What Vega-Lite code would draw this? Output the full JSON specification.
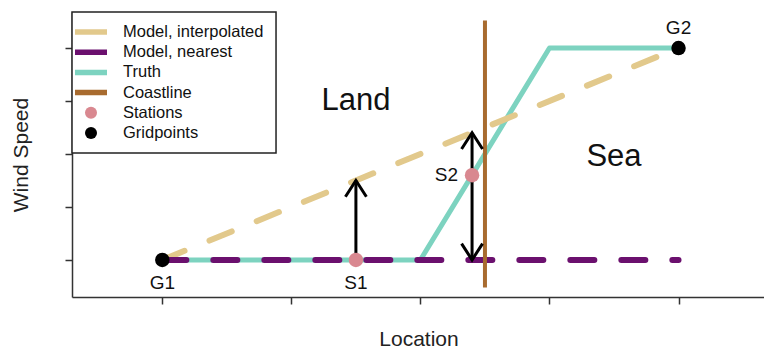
{
  "$schema": "https://vega.github.io/schema/vega-lite/v6.json",
  "width": 693,
  "height": 285,
  "autosize": {"type": "none"},
  "padding": {"left": 72, "top": 12, "right": 0, "bottom": 56},
  "background": "white",
  "config": {
    "view": {"stroke": null},
    "font": "Liberation Sans",
    "axis": {
      "grid": false,
      "labels": false,
      "tickSize": 7,
      "tickWidth": 1.5,
      "tickColor": "#333",
      "domainColor": "#333",
      "domainWidth": 1.5,
      "titleFont": "Liberation Sans",
      "titleFontSize": 21,
      "titleFontWeight": "normal",
      "titleColor": "#222"
    }
  },
  "datasets": {
    "lines": [
      {"series": "Model, interpolated", "x": 1, "y": 1},
      {"series": "Model, interpolated", "x": 5, "y": 5},
      {"series": "Model, nearest", "x": 1, "y": 1},
      {"series": "Model, nearest", "x": 5, "y": 1},
      {"series": "Truth", "x": 1, "y": 1},
      {"series": "Truth", "x": 3, "y": 1},
      {"series": "Truth", "x": 4, "y": 5},
      {"series": "Truth", "x": 5, "y": 5}
    ],
    "coast": [{"series": "Coastline", "x": 3.5, "y": 0.48, "y2": 5.52}],
    "points": [
      {"series": "Stations", "name": "S1", "x": 2.5, "y": 1},
      {"series": "Stations", "name": "S2", "x": 3.4, "y": 2.6},
      {"series": "Gridpoints", "name": "G1", "x": 1, "y": 1},
      {"series": "Gridpoints", "name": "G2", "x": 5, "y": 5}
    ],
    "arrows": [
      {"station": "S1", "x": 2.5, "from": 1, "to": 2.5},
      {"station": "S2", "x": 3.4, "from": 1, "to": 3.4}
    ],
    "heads": [
      {"x": 2.5, "y": 2.5, "dir": "up"},
      {"x": 3.4, "y": 3.4, "dir": "up"},
      {"x": 3.4, "y": 1, "dir": "down"}
    ],
    "regions": [
      {"label": "Land", "x": 2.5, "y": 4.0},
      {"label": "Sea", "x": 4.5, "y": 2.95}
    ],
    "key": [
      {"series": "Model, interpolated", "kind": "line"},
      {"series": "Model, nearest", "kind": "line"},
      {"series": "Truth", "kind": "line"},
      {"series": "Coastline", "kind": "line"},
      {"series": "Stations", "kind": "dot"},
      {"series": "Gridpoints", "kind": "dot"}
    ]
  },
  "resolve": {"scale": {"y": "independent"}, "axis": {"y": "independent"}},
  "layer": [
    {
      "encoding": {
        "x": {
          "field": "x", "type": "quantitative",
          "scale": {"domain": [0.3, 5.67], "nice": false, "zero": false},
          "axis": {"title": "Location", "values": [1, 2, 3, 4, 5], "titlePadding": 24}
        },
        "y": {
          "field": "y", "type": "quantitative",
          "scale": {"domain": [0.3, 5.68], "nice": false, "zero": false},
          "axis": {"title": "Wind Speed", "values": [1, 2, 3, 4, 5], "titlePadding": 33}
        }
      },
      "layer": [
        {
          "data": {"name": "lines"},
          "transform": [{"filter": "datum.series === 'Truth'"}],
          "mark": {"type": "line", "strokeWidth": 5, "strokeCap": "round", "strokeJoin": "round"},
          "encoding": {
            "color": {
              "field": "series", "type": "nominal",
              "scale": {
                "domain": ["Model, interpolated", "Model, nearest", "Truth", "Coastline", "Stations", "Gridpoints"],
                "range": ["#E2C98C", "#6B106E", "#7DD3C0", "#A86B2F", "#D98890", "#000000"]
              },
              "legend": null
            }
          }
        },
        {
          "data": {"name": "lines"},
          "transform": [{"filter": "datum.series === 'Model, interpolated'"}],
          "mark": {"type": "line", "strokeWidth": 6, "strokeCap": "round", "strokeDash": [24, 27]},
          "encoding": {"color": {"field": "series", "type": "nominal", "legend": null}}
        },
        {
          "data": {"name": "lines"},
          "transform": [{"filter": "datum.series === 'Model, nearest'"}],
          "mark": {"type": "line", "strokeWidth": 6, "strokeCap": "round", "strokeDash": [24, 27]},
          "encoding": {"color": {"field": "series", "type": "nominal", "legend": null}}
        },
        {
          "data": {"name": "coast"},
          "mark": {"type": "rule", "strokeWidth": 4},
          "encoding": {
            "y2": {"field": "y2"},
            "color": {"field": "series", "type": "nominal", "legend": null}
          }
        },
        {
          "data": {"name": "arrows"},
          "mark": {"type": "rule", "strokeWidth": 3, "color": "#000"},
          "encoding": {
            "y": {"field": "from", "type": "quantitative"},
            "y2": {"field": "to"}
          }
        },
        {
          "data": {"name": "heads"},
          "mark": {"type": "point", "filled": false, "strokeWidth": 3, "color": "#000", "opacity": 1, "strokeJoin": "miter"},
          "encoding": {
            "shape": {
              "field": "dir", "type": "nominal",
              "scale": {"domain": ["up", "down"], "range": ["M-1,1.55L0,0L1,1.55", "M-1,-1.55L0,0L1,-1.55"]},
              "legend": null
            },
            "size": {"value": 440}
          }
        },
        {
          "data": {"name": "points"},
          "mark": {"type": "point", "filled": true, "opacity": 1, "size": 210},
          "encoding": {"color": {"field": "series", "type": "nominal", "legend": null}}
        },
        {
          "data": {"name": "points"},
          "transform": [{"filter": "datum.name === 'G1' || datum.name === 'S1'"}],
          "mark": {"type": "text", "fontSize": 19, "color": "#111", "dy": 23, "baseline": "middle"},
          "encoding": {"text": {"field": "name"}}
        },
        {
          "data": {"name": "points"},
          "transform": [{"filter": "datum.name === 'G2'"}],
          "mark": {"type": "text", "fontSize": 19, "color": "#111", "dy": -20, "baseline": "middle"},
          "encoding": {"text": {"field": "name"}}
        },
        {
          "data": {"name": "points"},
          "transform": [{"filter": "datum.name === 'S2'"}],
          "mark": {"type": "text", "fontSize": 19, "color": "#111", "dx": -14, "align": "right", "baseline": "middle"},
          "encoding": {"text": {"field": "name"}}
        },
        {
          "data": {"name": "regions"},
          "mark": {"type": "text", "fontSize": 31, "color": "#111", "baseline": "middle"},
          "encoding": {"text": {"field": "label"}}
        }
      ]
    },
    {
      "data": {"name": "key"},
      "encoding": {
        "y": {
          "field": "series", "type": "ordinal", "sort": null,
          "scale": {"type": "point", "domain": ["Model, interpolated", "Model, nearest", "Truth", "Coastline", "Stations", "Gridpoints"], "range": [20, 121], "padding": 0},
          "axis": null
        },
        "color": {"field": "series", "type": "nominal", "legend": null}
      },
      "layer": [
        {
          "transform": [{"filter": "datum.series === 'Model, interpolated'"}],
          "mark": {"type": "rect", "yOffset": -20, "y2Offset": 20},
          "encoding": {
            "x": {"datum": 0.3},
            "x2": {"datum": 1.881},
            "y": {"datum": "Model, interpolated"},
            "y2": {"datum": "Gridpoints"},
            "color": {"value": "white"},
            "fill": {"value": "white"},
            "stroke": {"value": "#222"},
            "strokeWidth": {"value": 1.5}
          }
        },
        {
          "transform": [{"filter": "datum.kind === 'line'"}],
          "mark": {"type": "rule", "strokeWidth": 5.5},
          "encoding": {"x": {"datum": 0.3232}, "x2": {"datum": 0.5712}}
        },
        {
          "transform": [{"filter": "datum.kind === 'dot'"}],
          "mark": {"type": "point", "filled": true, "opacity": 1, "size": 144},
          "encoding": {"x": {"datum": 0.4472}}
        },
        {
          "mark": {"type": "text", "fontSize": 16.5, "align": "left", "baseline": "middle", "color": "#111"},
          "encoding": {"x": {"datum": 0.6952}, "text": {"field": "series"}, "color": {"value": "#111"}}
        }
      ]
    }
  ]
}
